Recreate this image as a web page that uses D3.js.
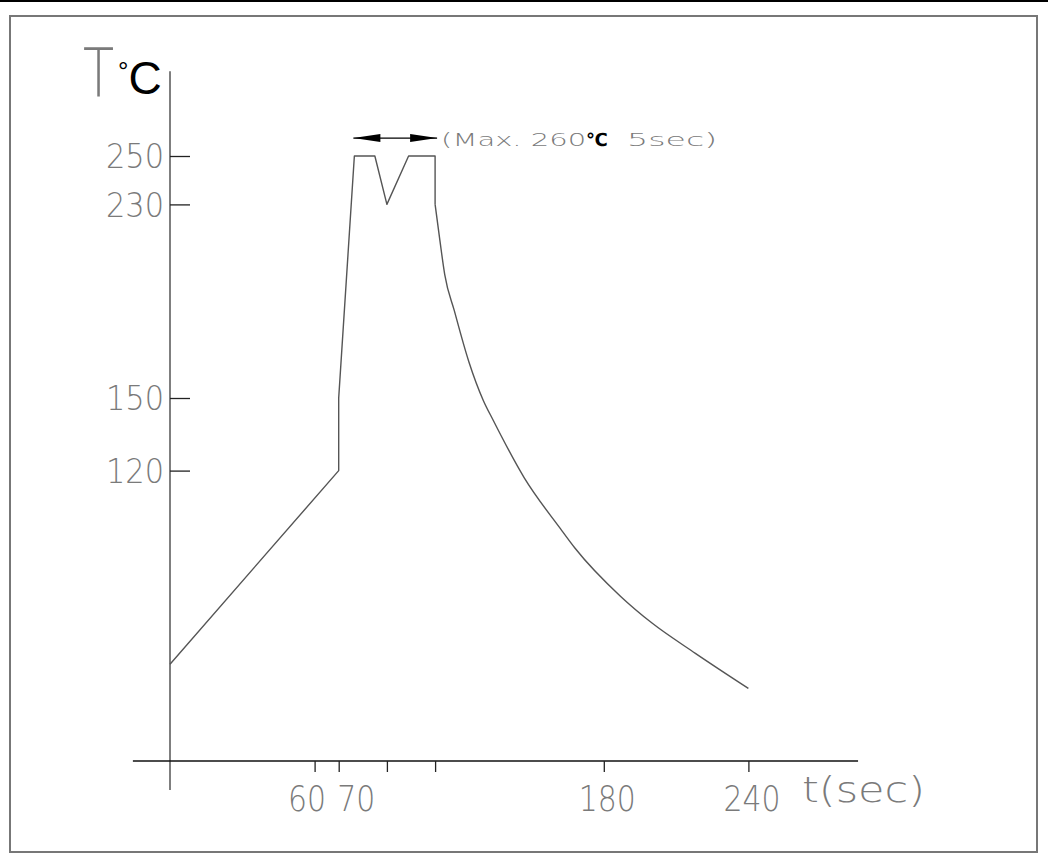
<!DOCTYPE html>
<html>
<head>
<meta charset="utf-8">
<script src="https://cdn.jsdelivr.net/npm/d3@7"></script>
<style>
  body { margin: 0; background: #fff; }
  .cad { font-family: "DejaVu Sans", sans-serif; font-weight: 200; fill: #7a7a7a; }
</style>
</head>
<body>
<div id="my_dataviz"></div>
<script>
// Reflow temperature profile (time in sec, temperature in C)
const profileTime = [0, 70, 70, 76.5, 85, 90, 99, 110, 110, 112, 114, 118, 124, 130, 134, 147, 162, 168, 187, 200, 218, 240];
const profileTemp = [40, 120, 150, 250, 250, 230, 250, 250, 230, 215, 201, 186, 165, 149, 141, 117, 96, 88, 68, 57, 44.5, 30];

// Axis ticks and labels
const tempTicks = [120, 150, 230, 250];
const timeTicks = [60, 70, 90, 110, 180, 240];
const timeLabels = ["60", "70", "", "", "180", "240"];

// Peak annotation
const peakNote = ["(Max. 260", "℃", "5sec)"];

const width = 1048;
const height = 863;

const svg = d3.select("#my_dataviz")
    .append("svg")
    .attr("width", width)
    .attr("height", height);

// Outer frame
svg.append("rect")
    .attr("x", 0).attr("y", 0)
    .attr("width", width).attr("height", 2)
    .attr("fill", "#000");

svg.append("rect")
    .attr("x", 10).attr("y", 16)
    .attr("width", 1027).attr("height", 836)
    .attr("fill", "none")
    .attr("stroke", "#777")
    .attr("stroke-width", 2);

// Scales
const x = d3.scaleLinear().domain([0, 240]).range([170, 748.4]);
const y = d3.scaleLinear().domain([0, 250]).range([761, 156]);

// Axis lines run past the tick range
svg.append("line")
    .attr("x1", x(0)).attr("x2", x(0))
    .attr("y1", y(285)).attr("y2", y(-12))
    .attr("stroke", "#555")
    .attr("stroke-width", 1.5);

svg.append("line")
    .attr("x1", x(-15.4)).attr("x2", x(285.5))
    .attr("y1", y(0)).attr("y2", y(0))
    .attr("stroke", "#111")
    .attr("stroke-width", 1.5);

// Y axis: ticks point inside, labels on the left
const yAxis = svg.append("g")
    .attr("transform", `translate(${x(0)},0)`)
    .call(d3.axisLeft(y)
        .tickValues(tempTicks)
        .tickSizeInner(-20)
        .tickSizeOuter(0)
        .tickPadding(6));

yAxis.select(".domain").remove();
yAxis.selectAll(".tick line").attr("stroke", "#222").attr("stroke-width", 1.3);
yAxis.selectAll(".tick text")
    .attr("class", "cad")
    .attr("font-size", 33)
    .attr("dy", "0.36em")
    .attr("textLength", 58)
    .attr("lengthAdjust", "spacingAndGlyphs");

// X axis: ticks point down
const xAxis = svg.append("g")
    .attr("transform", `translate(0,${y(0)})`)
    .call(d3.axisBottom(x)
        .tickValues(timeTicks)
        .tickSizeInner(11)
        .tickSizeOuter(0)
        .tickPadding(6)
        .tickFormat((d, i) => timeLabels[i]));

xAxis.select(".domain").remove();
xAxis.selectAll(".tick line").attr("stroke", "#222").attr("stroke-width", 1.3);
xAxis.selectAll(".tick text")
    .attr("class", "cad")
    .attr("font-size", 35)
    .attr("dy", "0.95em")
    .attr("textLength", d => String(d).length * 19)
    .attr("lengthAdjust", "spacingAndGlyphs")
    // 60 and 70 sit close together and read as "6070"
    .attr("text-anchor", d => d === 60 ? "end" : d === 70 ? "start" : "middle")
    .attr("dx", d => d === 60 ? 11 : d === 70 ? -2 : 3);

// Axis titles
svg.append("text")
    .attr("class", "cad")
    .attr("x", x(0) + 632).attr("y", y(0) + 41)
    .attr("font-size", 35)
    .attr("textLength", 123)
    .attr("lengthAdjust", "spacingAndGlyphs")
    .text("t(sec)");

// "T" squeezed horizontally like the CAD glyph
svg.append("text")
    .attr("class", "cad")
    .attr("transform", "translate(83,97) scale(0.76,1)")
    .attr("font-size", 67)
    .text("T");

const unit = svg.append("text")
    .attr("font-family", "Liberation Sans, Arial, sans-serif");

unit.append("tspan")
    .attr("x", 118).attr("y", 80)
    .attr("font-size", 26)
    .text("°");

unit.append("tspan")
    .attr("x", 128.5).attr("y", 94)
    .attr("font-size", 46)
    .text("C");

// Temperature profile: straight ramp and peak, smooth cooling curve
const points = d3.zip(profileTime, profileTemp);

const line = d3.line()
    .x(d => x(d[0]))
    .y(d => y(d[1]));

svg.append("path")
    .datum(points.slice(0, 9))
    .attr("d", line)
    .attr("fill", "none")
    .attr("stroke", "#555")
    .attr("stroke-width", 1.4)
    .attr("stroke-linejoin", "round");

svg.append("path")
    .datum(points.slice(8))
    .attr("d", line.curve(d3.curveMonotoneX))
    .attr("fill", "none")
    .attr("stroke", "#555")
    .attr("stroke-width", 1.4);

// Double arrow over the peak
const arrowY = y(257.4);
const a0 = x(profileTime[3]) - 1;
const a1 = x(profileTime[7]) + 2;

svg.append("line")
    .attr("x1", a0).attr("x2", a1)
    .attr("y1", arrowY).attr("y2", arrowY)
    .attr("stroke", "#000")
    .attr("stroke-width", 1.2);

svg.append("path")
    .attr("d", `M${a0},${arrowY} L${a0 + 27},${arrowY - 4} L${a0 + 27},${arrowY + 4} Z`)
    .attr("fill", "#000");

svg.append("path")
    .attr("d", `M${a1},${arrowY} L${a1 - 27},${arrowY - 4} L${a1 - 27},${arrowY + 4} Z`)
    .attr("fill", "#000");

// Annotation text
svg.append("text")
    .attr("class", "cad")
    .attr("x", a1 + 4).attr("y", arrowY + 8)
    .attr("font-size", 18)
    .attr("textLength", 145)
    .attr("lengthAdjust", "spacingAndGlyphs")
    .text(peakNote[0]);

svg.append("text")
    .attr("x", a1 + 149).attr("y", arrowY + 8)
    .attr("font-family", "DejaVu Sans, sans-serif")
    .attr("font-weight", "bold")
    .attr("font-size", 18)
    .text(peakNote[1]);

svg.append("text")
    .attr("class", "cad")
    .attr("x", a1 + 190).attr("y", arrowY + 8)
    .attr("font-size", 18)
    .attr("textLength", 90)
    .attr("lengthAdjust", "spacingAndGlyphs")
    .text(peakNote[2]);
</script>
</body>
</html>
